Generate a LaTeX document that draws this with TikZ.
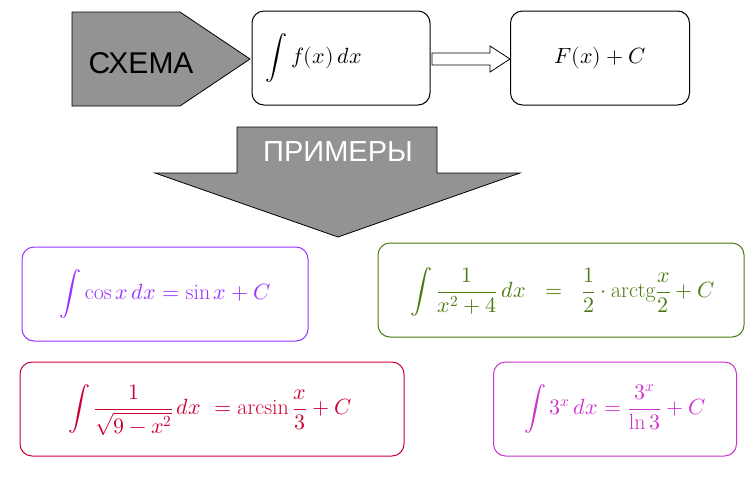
\documentclass[tikz,border=0pt]{standalone}
\usepackage{fontspec}
\usepackage{unicode-math}
\setmathfont{Latin Modern Math}
\newfontfamily\sansf{Liberation Sans}
\begin{document}
\begin{tikzpicture}[x=1pt,y=-1pt,
  box/.style={draw,rounded corners=12pt,line width=1pt,minimum height=94pt,inner sep=0pt},
  mth/.style={font=\fontsize{22}{26}\selectfont}]
\useasboundingbox (0,0) rectangle (754,477);
% schema arrow
\draw[fill=gray!85,line width=0.8pt] (72,12) -- (180,12) -- (250,59) -- (180,106) -- (72,106) -- cycle;
\node[font=\sansf\fontsize{30}{34}\selectfont] (sch) at (141,63) {СХЕМА};
\node[box,minimum width=178pt] (b1) at (341,58) {};
\node[mth,anchor=west] (f1) at (262,58) {$\displaystyle\int f(x)\,dx$};
\node[box,minimum width=179pt] (b2) at (600,58) {};
\node[mth] (f2) at (600,58) {$F(x)+C$};
% hollow arrow
\draw[line width=0.8pt,fill=white] (432,53) -- (490,53) -- (490,46) -- (510,59) -- (490,72) -- (490,65) -- (432,65) -- cycle;
% big down arrow
\draw[fill=gray!85,line width=0.8pt] (237,127) -- (437,127) -- (437,173) -- (520,173) -- (338,237) -- (155,173) -- (237,173) -- cycle;
\node[font=\sansf\fontsize{29}{33}\selectfont,text=white] (pr) at (338,152) {ПРИМЕРЫ};
% examples
\definecolor{cv}{HTML}{9933FF}\definecolor{cg}{HTML}{4A7A10}\definecolor{cr}{HTML}{CC0033}\definecolor{cm}{HTML}{CC33CC}
\node[box,draw=cv,minimum width=286pt] (e1) at (165,294) {};
\node[mth,text=cv] (t1) at (165,294) {$\displaystyle\int\cos x\,dx=\sin x+C$};
\node[box,draw=cg,minimum width=366pt] (e2) at (561,290) {};
\node[mth,text=cg] (t2) at (563,292) {$\displaystyle\int\frac{1}{x^2+4}\,dx\ \ =\ \ \frac12\cdot\mathrm{arctg}\frac{x}{2}+C$};
\node[box,draw=cr,minimum width=384pt] (e3) at (212,409) {};
\node[mth,text=cr] (t3) at (210,410) {$\displaystyle\int\frac{1}{\sqrt{9-x^2}}\,dx\ =\arcsin\frac{x}{3}+C$};
\node[box,draw=cm,minimum width=243pt] (e4) at (615,409) {};
\node[mth,text=cm] (t4) at (615,409) {$\displaystyle\int 3^x\,dx=\frac{3^x}{\ln 3}+C$};
\end{tikzpicture}
\end{document}
